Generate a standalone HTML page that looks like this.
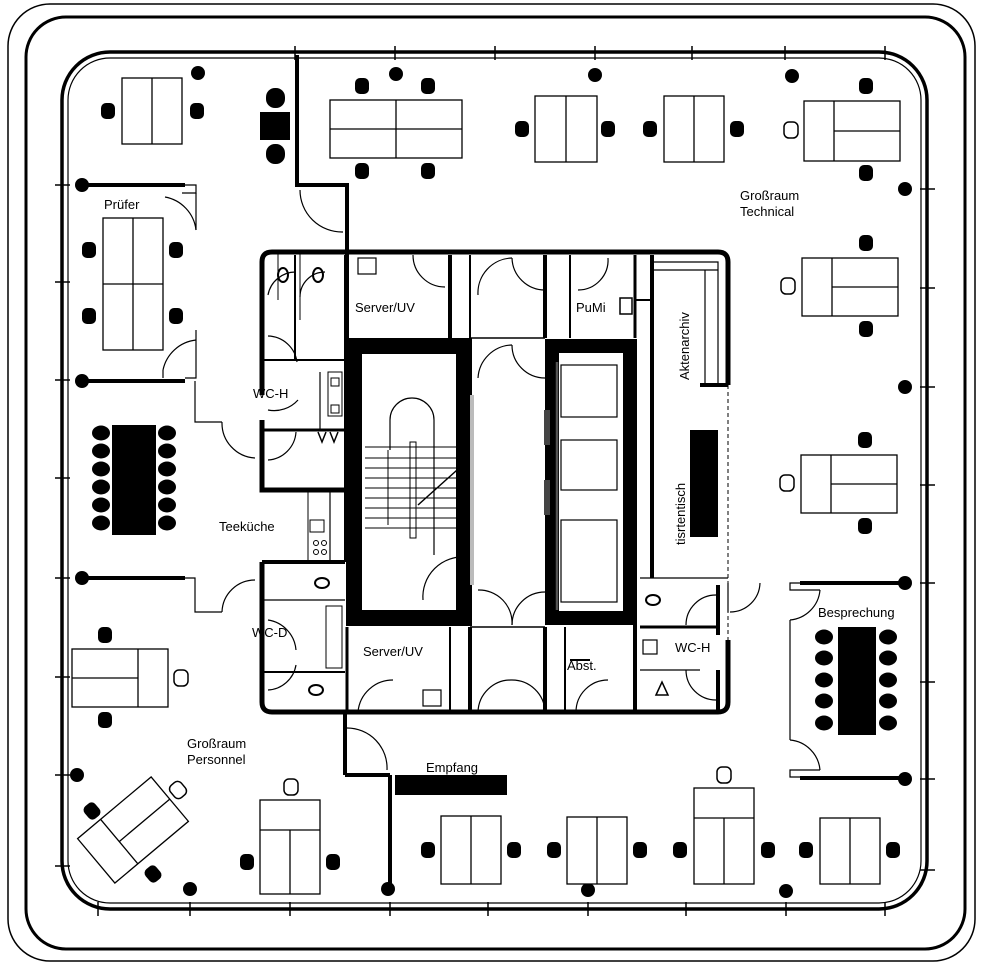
<!DOCTYPE html>
<html><head><meta charset="utf-8"><style>
html,body{margin:0;padding:0;background:#fff;}
svg{display:block}
text{font-family:"Liberation Sans",sans-serif;fill:#000}
</style></head><body>
<svg width="982" height="970" viewBox="0 0 982 970" xmlns="http://www.w3.org/2000/svg">
<defs>
<g id="ch"><rect x="-7" y="-8" width="14" height="16" rx="5" fill="#000"/></g>
<g id="cho"><rect x="-7" y="-8" width="14" height="16" rx="5" fill="#fff" stroke="#000" stroke-width="1.5"/></g>
<g id="col"><circle r="7" fill="#000"/></g>
<g id="rc"><ellipse rx="9" ry="7.5" fill="#000"/></g>
</defs>
<rect width="982" height="970" fill="#fff"/>
<!-- outer frames -->
<rect x="8" y="4" width="967" height="957" rx="42" fill="none" stroke="#000" stroke-width="1.5"/>
<rect x="26" y="17" width="939" height="932" rx="40" fill="none" stroke="#000" stroke-width="3"/>
<!-- building -->
<rect x="62" y="52" width="865" height="857" rx="48" fill="none" stroke="#000" stroke-width="3.5"/>
<rect x="68" y="58" width="853" height="845" rx="42" fill="none" stroke="#000" stroke-width="1.2"/>
<!-- perimeter ticks -->
<g stroke="#000" stroke-width="1.5">
<line x1="295" y1="46" x2="295" y2="60"/><line x1="395" y1="46" x2="395" y2="60"/><line x1="495" y1="46" x2="495" y2="60"/><line x1="595" y1="46" x2="595" y2="60"/><line x1="692" y1="46" x2="692" y2="60"/><line x1="785" y1="46" x2="785" y2="60"/><line x1="885" y1="46" x2="885" y2="60"/>
<line x1="98" y1="902" x2="98" y2="916"/><line x1="190" y1="902" x2="190" y2="916"/><line x1="290" y1="902" x2="290" y2="916"/><line x1="390" y1="902" x2="390" y2="916"/><line x1="488" y1="902" x2="488" y2="916"/><line x1="588" y1="902" x2="588" y2="916"/><line x1="686" y1="902" x2="686" y2="916"/><line x1="786" y1="902" x2="786" y2="916"/><line x1="885" y1="902" x2="885" y2="916"/>
<line x1="55" y1="185" x2="70" y2="185"/><line x1="55" y1="282" x2="70" y2="282"/><line x1="55" y1="380" x2="70" y2="380"/><line x1="55" y1="478" x2="70" y2="478"/><line x1="55" y1="578" x2="70" y2="578"/><line x1="55" y1="677" x2="70" y2="677"/><line x1="55" y1="775" x2="70" y2="775"/><line x1="55" y1="866" x2="70" y2="866"/>
<line x1="920" y1="189" x2="935" y2="189"/><line x1="920" y1="288" x2="935" y2="288"/><line x1="920" y1="387" x2="935" y2="387"/><line x1="920" y1="485" x2="935" y2="485"/><line x1="920" y1="583" x2="935" y2="583"/><line x1="920" y1="682" x2="935" y2="682"/><line x1="920" y1="779" x2="935" y2="779"/><line x1="920" y1="870" x2="935" y2="870"/>
</g>
<!-- columns -->
<use href="#col" x="198" y="73"/><use href="#col" x="396" y="74"/><use href="#col" x="595" y="75"/><use href="#col" x="792" y="76"/>
<use href="#col" x="905" y="189"/><use href="#col" x="905" y="387"/><use href="#col" x="905" y="583"/><use href="#col" x="905" y="779"/>
<use href="#col" x="82" y="185"/><use href="#col" x="82" y="381"/><use href="#col" x="82" y="578"/><use href="#col" x="77" y="775"/>
<use href="#col" x="190" y="889"/><use href="#col" x="388" y="889"/><use href="#col" x="588" y="890"/><use href="#col" x="786" y="891"/>
<!-- partition walls -->
<g stroke="#000" fill="none">
<line x1="82" y1="185" x2="185" y2="185" stroke-width="4"/><polyline points="185,185 196,185 196,193 182,193" stroke-width="1.2"/>
<line x1="82" y1="381" x2="185" y2="381" stroke-width="4"/><polyline points="185,378 196,378 196,330" stroke-width="1.2"/><line x1="196" y1="230" x2="196" y2="193" stroke-width="1.2"/>
<path d="M196,230 A38,38 0 0 0 165,197" stroke-width="1.2"/><path d="M196,340 A38,38 0 0 0 163,370" stroke-width="1.2"/><line x1="163" y1="370" x2="163" y2="378" stroke-width="1.2"/>
<polyline points="195,381 195,422 222,422" stroke-width="1.2"/><path d="M222,422 A35,35 0 0 0 255,458" stroke-width="1.2"/>
<line x1="82" y1="578" x2="185" y2="578" stroke-width="4"/><polyline points="185,578 195,578 195,612 222,612" stroke-width="1.2"/><path d="M222,612 A33,33 0 0 1 255,580" stroke-width="1.2"/>
<polyline points="297,55 297,185 347,185 347,255" stroke-width="4"/>
<path d="M300,190 A42,42 0 0 0 343,232" stroke-width="1.2"/>
<line x1="345" y1="712" x2="345" y2="775" stroke-width="4"/><line x1="345" y1="775" x2="390" y2="775" stroke-width="4"/><line x1="390" y1="775" x2="390" y2="890" stroke-width="4"/>
<path d="M347,728 A40,40 0 0 1 387,770" stroke-width="1.2"/>
<line x1="905" y1="583" x2="800" y2="583" stroke-width="4"/><polyline points="800,583 790,583 790,590 820,590" stroke-width="1.2"/><path d="M820,590 A33,33 0 0 1 790,620" stroke-width="1.2"/>
<line x1="790" y1="620" x2="790" y2="740" stroke-width="1.2"/><path d="M790,740 A33,33 0 0 1 820,770" stroke-width="1.2"/><polyline points="820,770 790,770 790,777 800,777" stroke-width="1.2"/>
<line x1="905" y1="778" x2="800" y2="778" stroke-width="4"/>
<polyline points="728,583 728,612" stroke-width="1.2"/><path d="M730,612 A30,30 0 0 0 760,583" stroke-width="1.2"/>
</g>
<!-- core -->
<g stroke="#000" fill="none">
<path d="M262,395 V262 Q262,252 272,252 H718 Q728,252 728,262 V385" stroke-width="5"/>
<path d="M262,420 V490 H345" stroke-width="5"/>
<path d="M262,562 V702 Q262,712 272,712 H718 Q728,712 728,702 V640" stroke-width="5"/>
<line x1="262" y1="562" x2="345" y2="562" stroke-width="4"/>
<line x1="728" y1="385" x2="728" y2="640" stroke-width="1" stroke-dasharray="4,3"/>
<line x1="700" y1="385" x2="728" y2="385" stroke-width="4"/>
<line x1="640" y1="578" x2="728" y2="578" stroke-width="1.2"/>
<!-- stair & lift frames -->
<rect x="354" y="346" width="110" height="272" stroke-width="16"/>
<rect x="552" y="346" width="78" height="272" stroke-width="14"/>
<line x1="470" y1="338" x2="545" y2="338" stroke-width="1.5"/>
<line x1="470" y1="627" x2="545" y2="627" stroke-width="1.5"/>
<!-- top rooms walls -->
<line x1="347" y1="255" x2="347" y2="338" stroke-width="4"/>
<line x1="450" y1="255" x2="450" y2="338" stroke-width="4"/><line x1="470" y1="255" x2="470" y2="338" stroke-width="2"/>
<line x1="545" y1="255" x2="545" y2="338" stroke-width="4"/><line x1="570" y1="255" x2="570" y2="338" stroke-width="2"/>
<line x1="635" y1="255" x2="635" y2="338" stroke-width="3"/><line x1="652" y1="255" x2="652" y2="578" stroke-width="4"/>
<line x1="295" y1="255" x2="295" y2="360" stroke-width="2"/><line x1="345" y1="255" x2="345" y2="562" stroke-width="2"/>
<line x1="300" y1="252" x2="300" y2="320" stroke-width="1"/>
<line x1="262" y1="360" x2="345" y2="360" stroke-width="2"/>
<line x1="278" y1="250" x2="278" y2="300" stroke-width="1"/>
<rect x="358" y="258" width="18" height="16" stroke-width="1.2"/>
<rect x="620" y="298" width="12" height="16" stroke-width="1.5"/>
<path d="M413,255 A32,32 0 0 0 445,287" stroke-width="1.2"/>
<path d="M478,295 A35,35 0 0 1 512,258" stroke-width="1.2"/><path d="M512,258 A33,33 0 0 0 545,290" stroke-width="1.2"/>
<path d="M478,378 A35,35 0 0 1 512,345" stroke-width="1.2"/><path d="M512,345 A33,33 0 0 0 545,378" stroke-width="1.2"/>
<path d="M578,290 A30,30 0 0 0 608,258" stroke-width="1.2"/>
<path d="M268,295 A28,28 0 0 1 296,272" stroke-width="1.2"/><path d="M300,297 A25,25 0 0 1 325,272" stroke-width="1.2"/>
<path d="M268,336 A30,30 0 0 1 297,362" stroke-width="1.2"/><path d="M268,410 A32,32 0 0 0 298,400" stroke-width="1.2"/>
<path d="M268,460 A30,30 0 0 0 296,432" stroke-width="1.2"/>
<line x1="320" y1="372" x2="320" y2="430" stroke-width="1.2"/><line x1="262" y1="430" x2="345" y2="430" stroke-width="3"/>
<line x1="330" y1="490" x2="330" y2="562" stroke-width="1.2"/><line x1="308" y1="490" x2="308" y2="562" stroke-width="1"/>
<rect x="310" y="520" width="14" height="12" stroke-width="1"/>
<circle cx="316" cy="543" r="2.5" stroke-width="1"/><circle cx="324" cy="543" r="2.5" stroke-width="1"/><circle cx="316" cy="552" r="2.5" stroke-width="1"/><circle cx="324" cy="552" r="2.5" stroke-width="1"/>
<rect x="328" y="372" width="14" height="44" stroke-width="1"/>
<rect x="331" y="378" width="8" height="8" stroke-width="1"/><rect x="331" y="405" width="8" height="8" stroke-width="1"/>
<path d="M268,620 A33,33 0 0 1 296,650" stroke-width="1.2"/>
<path d="M268,690 A30,30 0 0 0 296,665" stroke-width="1.2"/>
<line x1="262" y1="600" x2="345" y2="600" stroke-width="1.2"/><line x1="262" y1="672" x2="345" y2="672" stroke-width="2"/>
<rect x="326" y="606" width="16" height="62" stroke-width="1"/>
<ellipse cx="322" cy="583" rx="7" ry="5" stroke-width="2"/><ellipse cx="316" cy="690" rx="7" ry="5" stroke-width="2"/>
<ellipse cx="283" cy="275" rx="5" ry="7" stroke-width="2"/><ellipse cx="318" cy="275" rx="5" ry="7" stroke-width="2"/>
<!-- bottom rooms -->
<line x1="347" y1="627" x2="347" y2="712" stroke-width="3"/>
<line x1="450" y1="627" x2="450" y2="712" stroke-width="2"/><line x1="470" y1="627" x2="470" y2="712" stroke-width="4"/>
<line x1="545" y1="627" x2="545" y2="712" stroke-width="4"/><line x1="565" y1="627" x2="565" y2="712" stroke-width="2"/>
<line x1="635" y1="627" x2="635" y2="712" stroke-width="4"/><line x1="570" y1="660" x2="590" y2="660" stroke-width="2"/>
<line x1="635" y1="580" x2="635" y2="712" stroke-width="4"/>
<line x1="640" y1="627" x2="720" y2="627" stroke-width="3"/><line x1="640" y1="670" x2="700" y2="670" stroke-width="1.2"/>
<line x1="718" y1="585" x2="718" y2="635" stroke-width="4"/><line x1="718" y1="670" x2="718" y2="712" stroke-width="4"/>
<rect x="423" y="690" width="18" height="16" stroke-width="1.2"/>
<path d="M358,712 A35,35 0 0 1 393,680" stroke-width="1.2"/>
<path d="M478,712 A33,33 0 0 1 512,680" stroke-width="1.2"/><path d="M512,680 A33,33 0 0 1 545,712" stroke-width="1.2"/>
<path d="M478,590 A33,33 0 0 1 512,625" stroke-width="1.2"/><path d="M512,625 A33,33 0 0 1 545,592" stroke-width="1.2"/>
<path d="M576,712 A32,32 0 0 1 608,680" stroke-width="1.2"/>
<path d="M686,625 A30,30 0 0 1 716,595" stroke-width="1.2"/><path d="M686,670 A30,30 0 0 0 716,700" stroke-width="1.2"/>
<ellipse cx="653" cy="600" rx="7" ry="5" stroke-width="2"/><rect x="643" y="640" width="14" height="14" stroke-width="1.2"/>
<path d="M656,695 L662,682 L668,695 Z" stroke-width="1.5"/>
<!-- Akten -->
<polyline points="652,262 718,262 718,385" stroke-width="1.2"/><line x1="705" y1="270" x2="705" y2="385" stroke-width="1.2"/>
<line x1="652" y1="270" x2="718" y2="270" stroke-width="1.2"/>
<line x1="635" y1="300" x2="652" y2="300" stroke-width="2"/>
<!-- stair -->
<path d="M390,450 V420 A22,22 0 0 1 434,420 V555" stroke-width="1.2"/>
<g stroke-width="1"><line x1="365" y1="447" x2="466" y2="447"/><line x1="365" y1="458" x2="466" y2="458"/><line x1="365" y1="468" x2="466" y2="468"/><line x1="365" y1="478" x2="466" y2="478"/><line x1="365" y1="488" x2="466" y2="488"/><line x1="365" y1="498" x2="466" y2="498"/><line x1="365" y1="508" x2="466" y2="508"/><line x1="365" y1="518" x2="466" y2="518"/><line x1="365" y1="528" x2="466" y2="528"/></g>
<rect x="410" y="442" width="6" height="96" stroke-width="1"/>
<line x1="418" y1="505" x2="466" y2="462" stroke-width="1.5"/>
<line x1="388" y1="450" x2="388" y2="525" stroke-width="1"/>
<path d="M423,600 A40,40 0 0 1 466,557" stroke-width="1.2"/>
<!-- lift cars -->
<rect x="561" y="365" width="56" height="52" stroke-width="1.2"/>
<rect x="561" y="440" width="56" height="50" stroke-width="1.2"/>
<rect x="561" y="520" width="56" height="82" stroke-width="1.2"/>
<line x1="557" y1="362" x2="557" y2="610" stroke-width="2.5" stroke="#555"/>
</g>
<rect x="470" y="395" width="4" height="190" fill="#bbb"/>
<rect x="544" y="410" width="6" height="35" fill="#444"/><rect x="544" y="480" width="6" height="35" fill="#444"/>
<rect x="690" y="430" width="28" height="107" fill="#000"/>
<path d="M318,432 L322,442 L326,432 M330,432 L334,442 L338,432" stroke="#000" fill="none" stroke-width="1.5"/>
<!-- labels -->
<g font-size="13">
<text x="104" y="209">Prüfer</text>
<text x="355" y="312">Server/UV</text>
<text x="576" y="312">PuMi</text>
<text x="253" y="398">WC-H</text>
<text x="219" y="531">Teeküche</text>
<text x="252" y="637">WC-D</text>
<text x="363" y="656">Server/UV</text>
<text x="567" y="670">Abst.</text>
<text x="675" y="652">WC-H</text>
<text x="818" y="617">Besprechung</text>
<text x="426" y="772">Empfang</text>
<text x="187" y="748">Großraum</text>
<text x="187" y="764">Personnel</text>
<text x="740" y="200">Großraum</text>
<text x="740" y="216">Technical</text>
<text transform="translate(689,380) rotate(-90)">Aktenarchiv</text>
<text transform="translate(685,545) rotate(-90)">tisrtentisch</text>
</g>
<!-- desks -->
<g fill="#fff" stroke="#000" stroke-width="1.3">
<rect x="122" y="78" width="60" height="66"/><line x1="152" y1="78" x2="152" y2="144"/>
<rect x="330" y="100" width="132" height="58"/><line x1="396" y1="100" x2="396" y2="158"/><line x1="330" y1="129" x2="462" y2="129"/>
<rect x="535" y="96" width="62" height="66"/><line x1="566" y1="96" x2="566" y2="162"/>
<rect x="664" y="96" width="60" height="66"/><line x1="694" y1="96" x2="694" y2="162"/>
<rect x="804" y="101" width="96" height="60"/><line x1="834" y1="101" x2="834" y2="161"/><line x1="834" y1="131" x2="900" y2="131"/>
<rect x="103" y="218" width="60" height="132"/><line x1="133" y1="218" x2="133" y2="350"/><line x1="103" y1="284" x2="163" y2="284"/>
<rect x="802" y="258" width="96" height="58"/><line x1="832" y1="258" x2="832" y2="316"/><line x1="832" y1="287" x2="898" y2="287"/>
<rect x="801" y="455" width="96" height="58"/><line x1="831" y1="455" x2="831" y2="513"/><line x1="831" y1="484" x2="897" y2="484"/>
<rect x="72" y="649" width="96" height="58"/><line x1="138" y1="649" x2="138" y2="707"/><line x1="72" y1="678" x2="138" y2="678"/>
<g transform="translate(133,830) rotate(-40)"><rect x="-48" y="-29" width="96" height="58"/><line x1="-18" y1="-29" x2="-18" y2="29"/><line x1="-18" y1="0" x2="48" y2="0"/></g>
<rect x="260" y="800" width="60" height="94"/><line x1="260" y1="830" x2="320" y2="830"/><line x1="290" y1="830" x2="290" y2="894"/>
<rect x="441" y="816" width="60" height="68"/><line x1="471" y1="816" x2="471" y2="884"/>
<rect x="567" y="817" width="60" height="67"/><line x1="597" y1="817" x2="597" y2="884"/>
<rect x="694" y="788" width="60" height="96"/><line x1="694" y1="818" x2="754" y2="818"/><line x1="724" y1="818" x2="724" y2="884"/>
<rect x="820" y="818" width="60" height="66"/><line x1="850" y1="818" x2="850" y2="884"/>
</g>
<!-- black tables -->
<rect x="112" y="425" width="44" height="110" fill="#000"/>
<rect x="838" y="627" width="38" height="108" fill="#000"/>
<rect x="395" y="775" width="112" height="20" fill="#000"/>
<rect x="260" y="112" width="30" height="28" fill="#000"/>
<rect x="266" y="88" width="19" height="20" rx="9" fill="#000"/><rect x="266" y="144" width="19" height="20" rx="9" fill="#000"/>
<!-- round chairs -->
<use href="#rc" x="101" y="433"/><use href="#rc" x="101" y="451"/><use href="#rc" x="101" y="469"/><use href="#rc" x="101" y="487"/><use href="#rc" x="101" y="505"/><use href="#rc" x="101" y="523"/>
<use href="#rc" x="167" y="433"/><use href="#rc" x="167" y="451"/><use href="#rc" x="167" y="469"/><use href="#rc" x="167" y="487"/><use href="#rc" x="167" y="505"/><use href="#rc" x="167" y="523"/>
<use href="#rc" x="824" y="637"/><use href="#rc" x="824" y="658"/><use href="#rc" x="824" y="680"/><use href="#rc" x="824" y="701"/><use href="#rc" x="824" y="723"/>
<use href="#rc" x="888" y="637"/><use href="#rc" x="888" y="658"/><use href="#rc" x="888" y="680"/><use href="#rc" x="888" y="701"/><use href="#rc" x="888" y="723"/>
<!-- chairs -->
<use href="#ch" x="108" y="111"/><use href="#ch" x="197" y="111"/>
<use href="#ch" x="362" y="86"/><use href="#ch" x="428" y="86"/><use href="#ch" x="362" y="171"/><use href="#ch" x="428" y="171"/>
<use href="#ch" x="522" y="129"/><use href="#ch" x="608" y="129"/><use href="#ch" x="650" y="129"/><use href="#ch" x="737" y="129"/>
<use href="#cho" x="791" y="130"/><use href="#ch" x="866" y="86"/><use href="#ch" x="866" y="173"/>
<use href="#ch" x="89" y="250"/><use href="#ch" x="89" y="316"/><use href="#ch" x="176" y="250"/><use href="#ch" x="176" y="316"/>
<use href="#cho" x="788" y="286"/><use href="#ch" x="866" y="243"/><use href="#ch" x="866" y="329"/>
<use href="#cho" x="787" y="483"/><use href="#ch" x="865" y="440"/><use href="#ch" x="865" y="526"/>
<use href="#ch" x="105" y="635"/><use href="#ch" x="105" y="720"/><use href="#cho" x="181" y="678"/>
<use href="#ch" x="92" y="811" transform="rotate(-40 92 811)"/><use href="#ch" x="153" y="874" transform="rotate(-40 153 874)"/><use href="#cho" x="178" y="790" transform="rotate(-40 178 790)"/>
<use href="#cho" x="291" y="787"/><use href="#ch" x="247" y="862"/><use href="#ch" x="333" y="862"/>
<use href="#ch" x="428" y="850"/><use href="#ch" x="514" y="850"/><use href="#ch" x="554" y="850"/><use href="#ch" x="640" y="850"/>
<use href="#cho" x="724" y="775"/><use href="#ch" x="680" y="850"/><use href="#ch" x="768" y="850"/>
<use href="#ch" x="806" y="850"/><use href="#ch" x="893" y="850"/>
</svg>
</body></html>
